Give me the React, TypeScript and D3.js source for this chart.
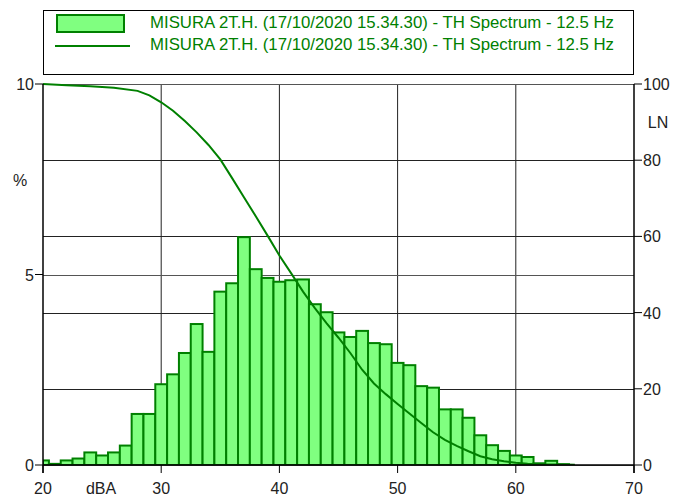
import React from "react";
import * as d3 from "d3";

const binCenters = [20,21,22,23,24,25,26,27,28,29,30,31,32,33,34,35,36,37,38,39,40,41,42,43,44,45,46,47,48,49,50,51,52,53,54,55,56,57,58,59,60,61,62,63,64];
const binPercent = [0.12,0.03,0.12,0.17,0.33,0.25,0.33,0.51,1.34,1.34,2.12,2.38,2.94,3.70,2.97,4.55,4.77,5.98,5.14,4.91,4.81,4.85,4.87,4.22,4.01,3.48,3.36,3.52,3.20,3.17,2.68,2.62,2.07,2.03,1.46,1.46,1.24,0.78,0.52,0.37,0.25,0.21,0.045,0.11,0.02];

const lnLevels = [20,22,24,26,28,29,30,31,32,33,34,35,36,37,38,39,40,41,42,43,44,45,46,47,48,49,50,51,52,53,54,55,56,57,58,59,60,61,62,63,64,65];
const lnValues = [100,99.7,99.4,99.0,98.2,97.0,95.2,93.0,90.3,87.3,84.0,80.2,75.3,70.3,65.3,60.2,55.0,50.3,45.5,41.2,37.2,33.4,29.4,25.0,21.4,18.6,16.0,13.5,11.0,8.6,6.6,5.0,3.6,2.3,1.5,1.0,0.6,0.35,0.2,0.15,0.1,0.05];

const xTicks = [20,30,40,50,60,70];
const leftTicks = [0,5,10];
const rightTicks = [0,20,40,60,80,100];
const seriesLabel = "MISURA 2T.H. (17/10/2020 15.34.30) - TH Spectrum - 12.5 Hz";

const W = 677, H = 496;
const L = 43, R = 634, T = 84, B = 465;
const GREEN = "#008000";
const FILL = "#80ff80";
const FONT = "'Liberation Sans', Arial, sans-serif";

export default function App() {
  const x = d3.scaleLinear().domain([20, 70]).range([L, R]);
  const yL = d3.scaleLinear().domain([0, 10]).range([B, T]);
  const yR = d3.scaleLinear().domain([0, 100]).range([B, T]);
  const line = d3.line<number>().x((_, i) => x(lnLevels[i])).y((v) => yR(v));

  return (
    <svg width={W} height={H} style={{ position: "absolute", left: 0, top: 0, background: "#fff" }} fontFamily={FONT}>
      <defs>
        <clipPath id="plotclip">
          <rect x={L} y={T - 2} width={R - L} height={B - T + 2} />
        </clipPath>
      </defs>
      {/* Legend */}
      <rect x={43.5} y={10.5} width={590} height={64} fill="#fff" stroke="#000" strokeWidth={1} />
      <rect x={57} y={15} width={67} height={17} fill={FILL} stroke={GREEN} strokeWidth={2} />
      <line x1={55} x2={130} y1={46} y2={46} stroke={GREEN} strokeWidth={2} />
      <text x={150} y={28} fontSize={16.2} fill={GREEN} textLength={464} lengthAdjust="spacingAndGlyphs">{seriesLabel}</text>
      <text x={150} y={50} fontSize={16.2} fill={GREEN} textLength={464} lengthAdjust="spacingAndGlyphs">{seriesLabel}</text>

      {/* Grid */}
      {xTicks.slice(1, -1).map((t) => (
        <line key={"vx" + t} x1={x(t)} x2={x(t)} y1={T} y2={B} stroke="#222" strokeWidth={1} />
      ))}
      {rightTicks.map((t) => (
        <line key={"hr" + t} x1={L} x2={R} y1={Math.round(yR(t)) + 0.5} y2={Math.round(yR(t)) + 0.5} stroke="#222" strokeWidth={1} />
      ))}
      {leftTicks.map((t) => (
        <line key={"hl" + t} x1={L} x2={R} y1={Math.round(yL(t)) + 0.5} y2={Math.round(yL(t)) + 0.5} stroke="#555" strokeWidth={1} />
      ))}

      {/* Bars */}
      <g clipPath="url(#plotclip)">
        {binCenters.map((c, i) => {
          const x0 = Math.max(x(c - 0.5), L);
          const x1 = x(c + 0.5);
          const y0 = yL(binPercent[i]);
          return (
            <rect key={"b" + c} x={x0} y={y0} width={x1 - x0} height={B - y0} fill={FILL} stroke={GREEN} strokeWidth={2} />
          );
        })}
        <path d={line(lnValues) || ""} fill="none" stroke={GREEN} strokeWidth={2} />
      </g>

      {/* Axes */}
      <line x1={L} x2={L} y1={T} y2={B + 8} stroke="#000" strokeWidth={1.5} />
      <line x1={R} x2={R} y1={T} y2={B + 8} stroke="#000" strokeWidth={1.5} />
      <line x1={L} x2={R} y1={B} y2={B} stroke="#000" strokeWidth={1.5} />
      {xTicks.map((t) => (
        <g key={"xt" + t}>
          <line x1={x(t)} x2={x(t)} y1={B} y2={B + 8} stroke="#000" strokeWidth={1} />
          <text x={x(t)} y={494} textAnchor="middle" fontSize={16} fill="#222">{t}</text>
        </g>
      ))}
      {leftTicks.map((t) => (
        <g key={"lt" + t}>
          <line x1={L - 8} x2={L} y1={yL(t)} y2={yL(t)} stroke="#000" strokeWidth={1} />
          <text x={L - 9} y={yL(t) + 6} textAnchor="end" fontSize={16} fill="#222">{t}</text>
        </g>
      ))}
      {rightTicks.map((t) => (
        <g key={"rt" + t}>
          <line x1={R} x2={R + 8} y1={yR(t)} y2={yR(t)} stroke="#000" strokeWidth={1} />
          <text x={R + 9} y={yR(t) + 6} textAnchor="start" fontSize={16} fill="#222">{t}</text>
        </g>
      ))}
      <text x={101} y={494} textAnchor="middle" fontSize={16} fill="#222">dBA</text>
      <text x={20} y={186} textAnchor="middle" fontSize={16} fill="#222">%</text>
      <text x={658} y={128} textAnchor="middle" fontSize={16} fill="#222">LN</text>
    </svg>
  );
}
